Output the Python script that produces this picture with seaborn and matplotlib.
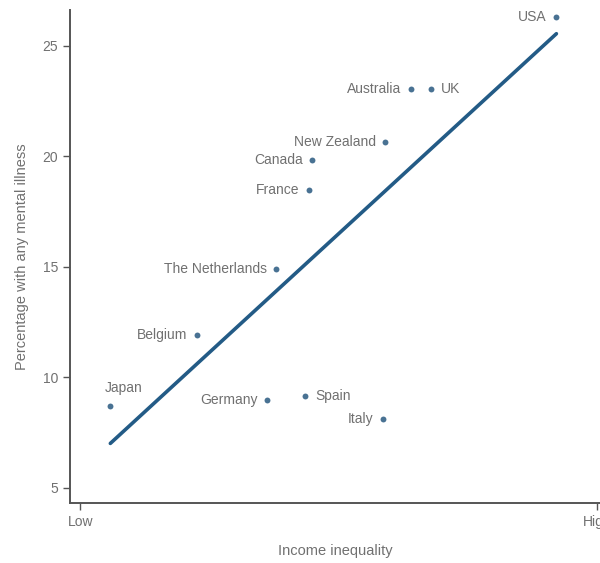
import matplotlib
matplotlib.use("Agg")
import matplotlib.pyplot as plt
import seaborn as sns
import pandas as pd

# values (x: 0 = low inequality, 1 = high)
countries = ["USA", "Australia", "UK", "New Zealand", "Canada", "France",
             "The Netherlands", "Belgium", "Japan", "Germany", "Spain", "Italy"]
inequality = [0.921, 0.640, 0.679, 0.590, 0.449, 0.443,
              0.379, 0.226, 0.058, 0.362, 0.435, 0.586]
mental_illness = [26.3, 23.05, 23.05, 20.66, 19.84, 18.5,
                  14.9, 11.9, 8.7, 9.0, 9.15, 8.1]
label_side = ["left", "left", "right", "left", "left", "left",
              "left", "left", "above", "left", "right", "left"]

df = pd.DataFrame({"country": countries, "x": inequality, "y": mental_illness})

sns.set_style("ticks")
plt.rcParams["font.family"] = ["Liberation Sans", "DejaVu Sans"]
grey = "#707070"
blue = "#235b86"

fig = plt.figure(figsize=(6, 5.63), dpi=100)
ax = fig.add_axes([0.1167, 0.1066, 0.883, 0.8757])

sns.regplot(data=df, x="x", y="y", ci=None, ax=ax,
            scatter_kws={"s": 18, "color": "#1c4f78", "linewidths": 0},
            line_kws={"color": blue, "lw": 2.6})

for name, xv, yv, side in zip(countries, inequality, mental_illness, label_side):
    if side == "left":
        ax.annotate(name, (xv, yv), xytext=(-7, 0), textcoords="offset points",
                    ha="right", va="center", fontsize=10, color=grey)
    elif side == "right":
        ax.annotate(name, (xv, yv), xytext=(7, 0), textcoords="offset points",
                    ha="left", va="center", fontsize=10, color=grey)
    else:
        ax.annotate(name, (xv, yv), xytext=(-4, 8), textcoords="offset points",
                    ha="left", va="bottom", fontsize=10, color=grey)

ax.set_xlim(-0.02, 1.005)
ax.set_ylim(4.32, 26.63)
ax.set_xticks([0, 1])
ax.set_xticklabels(["Low", "High"])
ax.set_yticks([5, 10, 15, 20, 25])
ax.tick_params(colors="#555555", labelcolor=grey, labelsize=10, length=5, width=1)
ax.set_xlabel("Income inequality", fontsize=10.5, color=grey, labelpad=11)
ax.set_ylabel("Percentage with any mental illness", fontsize=10.5, color=grey, labelpad=10)

for s in ["top", "right"]:
    ax.spines[s].set_visible(False)
for s in ["left", "bottom"]:
    ax.spines[s].set_color("#555555")
    ax.spines[s].set_linewidth(1.4)

fig.savefig("out.png", dpi=100)
